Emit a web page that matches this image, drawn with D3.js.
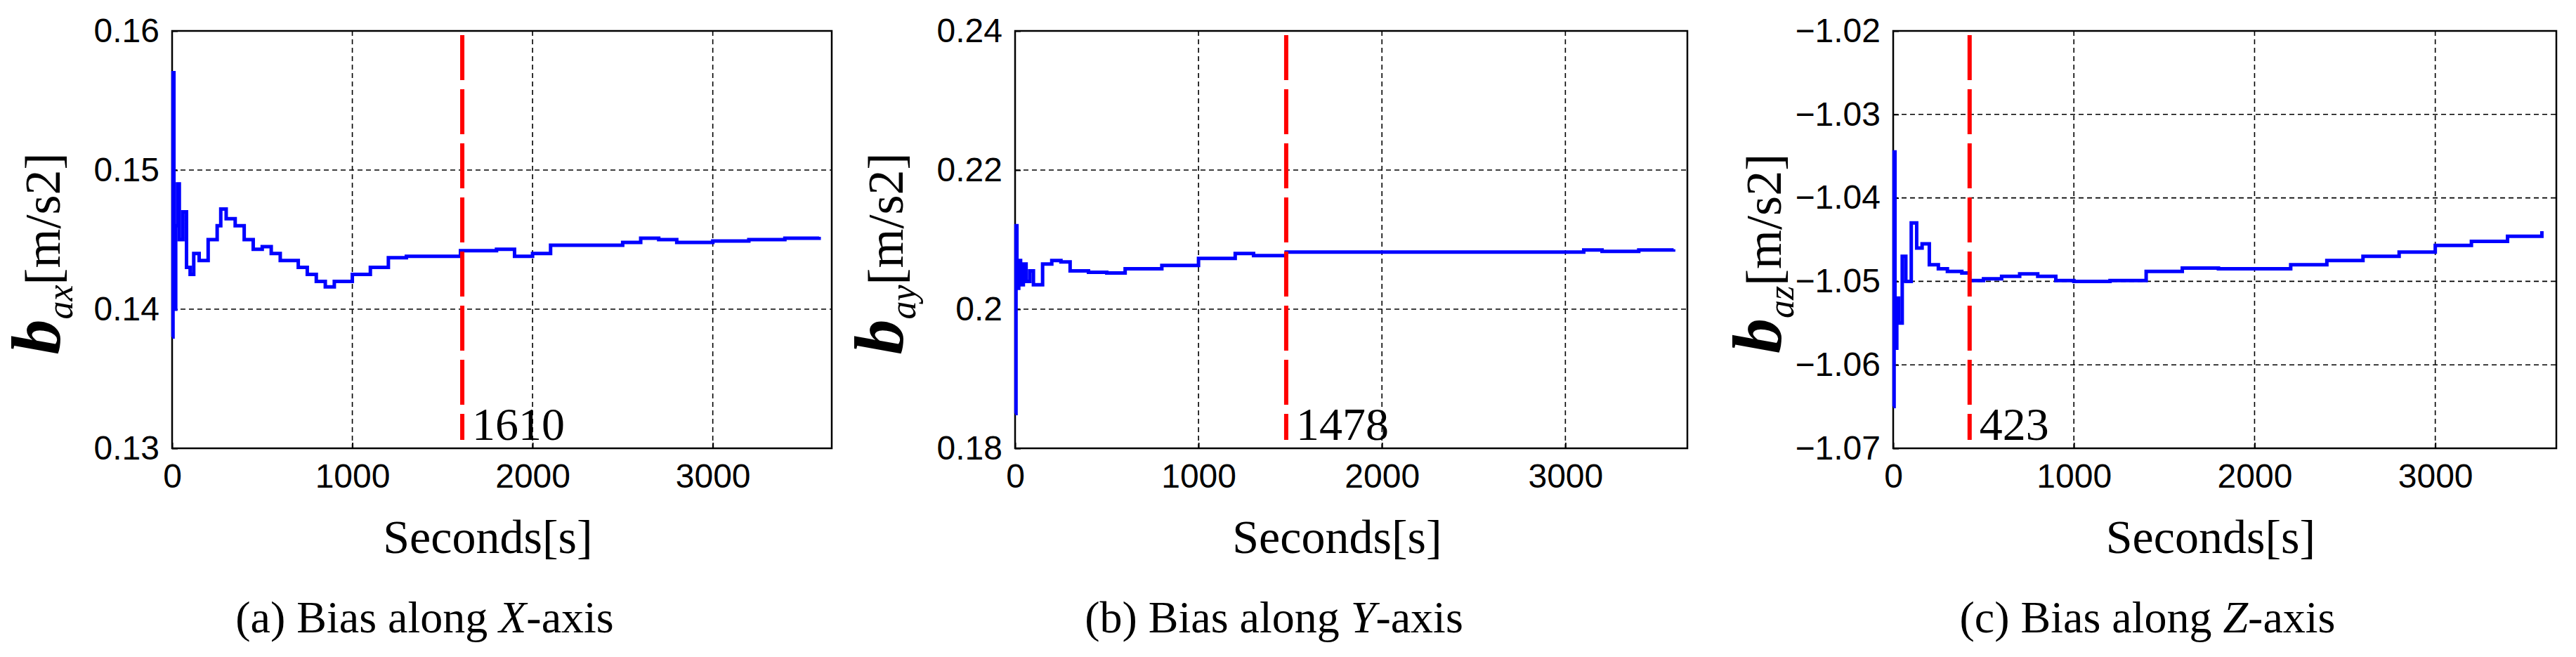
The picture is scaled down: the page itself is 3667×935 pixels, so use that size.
<!DOCTYPE html>
<html><head><meta charset="utf-8">
<script src="https://cdn.jsdelivr.net/npm/d3@7"></script>
<style>body{margin:0;background:#fff}</style>
</head><body>
<svg width="3667" height="935"></svg>
<script>
// bias along X
var tA = [0,5,10,20,30,40,60,80,100,120,150,200,250,270,300,350,400,450,500,550,600,700,750,800,850,900,1000,1100,1200,1300,1400,1500,1600,1700,1800,1900,2000,2100,2300,2500,2600,2700,2800,3000,3200,3400,3590];
var vA = [0.138,0.157,0.140,0.146,0.149,0.145,0.147,0.143,0.1425,0.144,0.1435,0.145,0.146,0.1472,0.1465,0.146,0.145,0.1443,0.1445,0.144,0.1435,0.143,0.1425,0.142,0.1416,0.142,0.1425,0.143,0.1437,0.1438,0.1438,0.1438,0.1442,0.1442,0.1443,0.1438,0.144,0.1446,0.1446,0.1448,0.1451,0.145,0.1448,0.1449,0.145,0.1451,0.1452];
// bias along Y
var tB = [0,5,10,20,30,45,60,80,100,150,200,250,300,400,500,600,800,1000,1200,1300,1478,1600,2000,2400,3000,3100,3200,3400,3590];
var vB = [0.185,0.212,0.203,0.207,0.2035,0.2065,0.204,0.2055,0.2035,0.2065,0.207,0.2068,0.2055,0.2053,0.2052,0.2058,0.2063,0.2073,0.208,0.2077,0.2082,0.2082,0.2082,0.2082,0.2082,0.2085,0.2083,0.2085,0.2086];
// bias along Z
var tC = [0,5,10,20,30,50,70,100,130,160,200,250,300,380,423,500,600,700,800,900,1000,1200,1400,1600,1800,2000,2200,2400,2600,2800,3000,3200,3400,3590];
var vC = [-1.065,-1.0345,-1.058,-1.052,-1.055,-1.047,-1.05,-1.043,-1.046,-1.0455,-1.048,-1.0485,-1.0488,-1.049,-1.0499,-1.0497,-1.0494,-1.0491,-1.0494,-1.0499,-1.05,-1.0499,-1.0488,-1.0484,-1.0485,-1.0485,-1.048,-1.0475,-1.047,-1.0465,-1.0457,-1.0452,-1.0446,-1.044];

var xTicks = [0,1000,2000,3000];
var panels = [
  {left:245, right:1184, xmax:3660, y:[0.13,0.16], yt:[0.13,0.14,0.15,0.16], fmt:d3.format(".2f"), t:tA, v:vA, mark:1610, sub:"ax", cap:["(a) Bias along ","X","-axis"]},
  {left:1445, right:2402, xmax:3665, y:[0.18,0.24], yt:[0.18,0.2,0.22,0.24], fmt:function(d){return d==0.2?"0.2":d3.format(".2f")(d);}, t:tB, v:vB, mark:1478, sub:"ay", cap:["(b) Bias along ","Y","-axis"]},
  {left:2695, right:3639, xmax:3670, y:[-1.07,-1.02], yt:[-1.07,-1.06,-1.05,-1.04,-1.03,-1.02], fmt:d3.format(".2f"), t:tC, v:vC, mark:423, sub:"az", cap:["(c) Bias along ","Z","-axis"]}
];
var plotTop = 44, plotBottom = 638;
var svg = d3.select("svg");

panels.forEach(function(p) {
  var x = d3.scaleLinear().domain([0,p.xmax]).range([p.left,p.right]);
  var y = d3.scaleLinear().domain(p.y).range([plotBottom,plotTop]);
  var g = svg.append("g");

  // grid
  g.selectAll(".gx").data(xTicks.slice(1)).enter().append("line")
    .attr("x1",x).attr("x2",x).attr("y1",plotTop).attr("y2",plotBottom)
    .attr("stroke","#000").attr("stroke-width",1.6).attr("stroke-dasharray","7,5");
  g.selectAll(".gy").data(p.yt.slice(1,-1)).enter().append("line")
    .attr("y1",y).attr("y2",y).attr("x1",p.left).attr("x2",p.right)
    .attr("stroke","#000").attr("stroke-width",1.6).attr("stroke-dasharray","7,5");

  // axes
  var xa = g.append("g").attr("transform","translate(0,"+plotBottom+")")
    .call(d3.axisBottom(x).tickValues(xTicks).tickSize(-8).tickPadding(22).tickFormat(d3.format("d")));
  var ya = g.append("g").attr("transform","translate("+p.left+",0)")
    .call(d3.axisLeft(y).tickValues(p.yt).tickSize(-8).tickPadding(18).tickFormat(p.fmt));
  [xa,ya].forEach(function(a){
    a.select(".domain").remove();
    a.selectAll("line").attr("stroke","#000").attr("stroke-width",2);
    a.selectAll("text").attr("font-family","Liberation Sans, Arial").attr("font-size",48).attr("fill","#000");
  });
  g.append("rect").attr("x",p.left).attr("y",plotTop).attr("width",p.right-p.left).attr("height",plotBottom-plotTop)
    .attr("fill","none").attr("stroke","#000").attr("stroke-width",2.5);

  // series
  var pts = p.t.map(function(t,i){return [t,p.v[i]];});
  g.append("path").datum(pts)
    .attr("d", d3.line().x(function(d){return x(d[0]);}).y(function(d){return y(d[1]);}).curve(d3.curveStepAfter))
    .attr("fill","none").attr("stroke","#0000ff").attr("stroke-width",5);

  // convergence marker
  g.append("line").attr("x1",x(p.mark)).attr("x2",x(p.mark)).attr("y1",plotTop+6).attr("y2",plotBottom-12)
    .attr("stroke","#ff0000").attr("stroke-width",6).attr("stroke-dasharray","64,13");
  g.append("text").attr("x",x(p.mark)+14).attr("y",626)
    .attr("font-family","Liberation Serif, Times New Roman").attr("font-size",66).text(p.mark);

  // labels
  var cx = (p.left+p.right)/2;
  g.append("text").attr("x",cx-20).attr("y",787).attr("text-anchor","middle")
    .attr("font-family","Liberation Serif, Times New Roman").attr("font-size",68).text("Seconds[s]");
  var cap = g.append("text").attr("x",cx-110).attr("y",900).attr("text-anchor","middle")
    .attr("font-family","Liberation Serif, Times New Roman").attr("font-size",64);
  cap.append("tspan").text(p.cap[0]);
  cap.append("tspan").attr("font-style","italic").text(p.cap[1]);
  cap.append("tspan").text(p.cap[2]);

  var yl = g.append("text").attr("transform","translate("+(p.left-160)+","+((plotTop+plotBottom)/2+20)+") rotate(-90)")
    .attr("text-anchor","middle").attr("font-family","Liberation Serif, Times New Roman");
  yl.append("tspan").attr("font-style","italic").attr("font-weight","bold").attr("font-size",100).text("b");
  yl.append("tspan").attr("font-style","italic").attr("font-size",52).attr("dy",18).text(p.sub);
  yl.append("tspan").attr("font-size",72).attr("dy",-18).text("[m/s2]");
});
</script>
</body></html>
